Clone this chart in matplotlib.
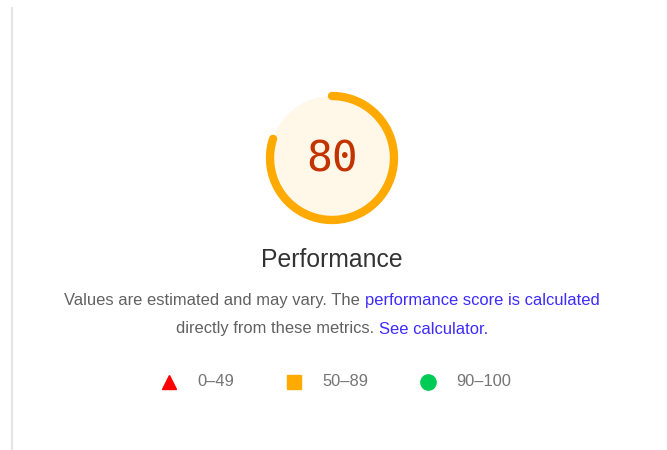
import numpy as np
import matplotlib
matplotlib.use("Agg")
import matplotlib.pyplot as plt

# gauge data
score = 80
category = "Performance"
note_line1 = [("Values are estimated and may vary. The ", "#616161"),
              ("performance score is calculated", "#3d2bff")]
note_line2 = [("directly from these metrics. ", "#616161"),
              ("See calculator.", "#3d2bff")]

# legend data
legend_labels = ["0\u201349", "50\u201389", "90\u2013100"]
legend_markers = ["^", "s", "o"]
legend_colors = ["#ff0000", "#ffaa00", "#00cc55"]
legend_x = [169, 294, 428]

plt.rcParams["font.family"] = ["Liberation Sans", "DejaVu Sans"]

fig = plt.figure(figsize=(6.67, 4.5), dpi=100)
ax = fig.add_axes([0, 0, 1, 1])
ax.set_xlim(0, 667)
ax.set_ylim(450, 0)
ax.set_aspect("equal")
ax.axis("off")

# left border line
ax.plot([11.5, 11.5], [7, 450], color="#e4e4ea", lw=1.6, solid_capstyle="butt")

# gauge
cx, cy, r = 332, 158, 62
ax.add_patch(plt.Circle((cx, cy), r, color="#fff7e8", lw=0))
theta = np.linspace(0, score / 100 * 2 * np.pi, 300)
ax.plot(cx + r * np.sin(theta), cy - r * np.cos(theta), color="#ffaa00",
        lw=6.0, solid_capstyle="round")
ax.text(cx, cy + 1, str(score), ha="center", va="center", fontsize=31,
        family="DejaVu Sans Mono", color="#c33300")

ax.text(cx, 260, category, ha="center", va="center", fontsize=17.8, color="#333333")

fig.canvas.draw()
renderer = fig.canvas.get_renderer()


def colored_line(parts, y, size):
    widths = []
    for s, c in parts:
        t = ax.text(0, y, s, fontsize=size)
        widths.append(t.get_window_extent(renderer).width)
        t.remove()
    x = cx - sum(widths) / 2
    for (s, c), w in zip(parts, widths):
        ax.text(x, y, s, ha="left", va="center", fontsize=size, color=c)
        x += w


colored_line(note_line1, 301, 11.9)
colored_line(note_line2, 329, 11.9)

for x, m, c, lab in zip(legend_x, legend_markers, legend_colors, legend_labels):
    ax.plot(x, 382, marker=m, color=c, markersize=11 if m == "o" else 10.5, lw=0)
    ax.text(x + 28, 382, lab, ha="left", va="center", fontsize=11.9, color="#757575")

fig.savefig("out.png", dpi=100)
